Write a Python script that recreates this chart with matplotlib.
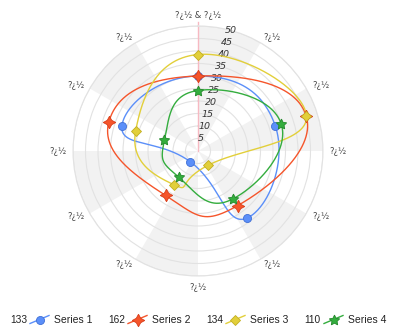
import numpy as np
import matplotlib
matplotlib.use('Agg')
import matplotlib.pyplot as plt
from matplotlib.lines import Line2D

# ---- data ----
angles_deg = [0, 72, 144, 216, 288]
series_names = ['Series 1', 'Series 2', 'Series 3', 'Series 4']
series1 = [30, 32.5, 33.2, 5.3, 32]
series2 = [30, 45.5, 27, 22, 37.5]
series3 = [38.6, 45.6, 7, 16.6, 26.2]
series4 = [24.2, 35, 23.7, 13, 14.1]
category_angles = list(range(0, 360, 30))
category_labels = ['?¿½ & ?¿½'] + ['?¿½'] * 11
radial_ticks = [5, 10, 15, 20, 25, 30, 35, 40, 45, 50]

colors = ['#5b8ff9', '#f5552b', '#e2cf3a', '#34ad3e']
edge_colors = ['#3f6fd6', '#d83c18', '#c2ae22', '#23882b']
markers = ['o', (4, 1, 0), 'D', (5, 1, 0)]
msizes = [5.8, 9, 5.6, 7.8]


def closed_spline(theta_deg, r, n=120, k=0.75):
    th = np.radians(theta_deg)
    r = np.asarray(r, dtype=float)
    P = np.column_stack([r * np.sin(th), r * np.cos(th)])
    m = len(P)
    D = k * (np.roll(P, -1, axis=0) - np.roll(P, 1, axis=0))
    t = np.linspace(0, 1, n, endpoint=False)[:, None]
    h00 = 2 * t**3 - 3 * t**2 + 1
    h10 = t**3 - 2 * t**2 + t
    h01 = -2 * t**3 + 3 * t**2
    h11 = t**3 - t**2
    pts = []
    for i in range(m):
        j = (i + 1) % m
        pts.append(h00 * P[i] + h10 * D[i] + h01 * P[j] + h11 * D[j])
    pts.append(P[0:1])
    pts = np.vstack(pts)
    rr = np.hypot(pts[:, 0], pts[:, 1])
    tt = np.unwrap(np.arctan2(pts[:, 0], pts[:, 1]))
    return tt, rr


fig = plt.figure(figsize=(3.95, 3.34), dpi=100)
ax = fig.add_axes([73 / 395, (334 - 151 - 125) / 334, 250 / 395, 250 / 334],
                  projection='polar')
ax.set_theta_zero_location('N')
ax.set_theta_direction(-1)
ax.set_ylim(0, 50)

# alternating shaded sectors
ax.bar(np.radians([15, 75, 135, 195, 255, 315]), 50, width=np.radians(30),
       color='#f2f2f2', edgecolor='none', zorder=1)

ax.set_yticks(radial_ticks)
ax.set_yticklabels([])
ax.yaxis.grid(True, color='#e2e2e2', linewidth=0.8)
ax.xaxis.grid(False)
ax.set_xticks(np.radians(category_angles))
ax.set_xticklabels([])
ax.tick_params(axis='x', length=5, width=0.8, color='#d6d6d6', direction='out')
ax.spines['polar'].set_color('#e2e2e2')
ax.spines['polar'].set_linewidth(0.8)

# pink radial axis line
ax.plot([0, 0], [0, 51.5], color='#f7b9c2', lw=1, zorder=2, clip_on=False)

# radial labels
for v in radial_ticks:
    ax.text(np.radians(15), v, str(v), ha='center', va='center',
            fontsize=6.8, fontstyle='italic', color='#333333', zorder=3,
            family='DejaVu Sans')

# category labels
for a, lab in zip(category_angles, category_labels):
    s, c = np.sin(np.radians(a)), np.cos(np.radians(a))
    ha = 'left' if s > 0.1 else ('right' if s < -0.1 else 'center')
    va = 'bottom' if c > 0.9 else ('top' if c < -0.9 else 'center')
    ax.text(np.radians(a), 52.6, lab, ha=ha, va=va, fontsize=6,
            color='#444444', clip_on=False, family='DejaVu Sans')

all_series = [series1, series2, series3, series4]
for k, vals in enumerate(all_series):
    tt, rr = closed_spline(angles_deg, vals)
    ax.plot(tt, rr, color=colors[k], lw=1, zorder=4 + k * 0.1)
for k, vals in enumerate(all_series):
    ax.plot(np.radians(angles_deg), vals, linestyle='none', marker=markers[k],
            markersize=msizes[k], markerfacecolor=colors[k],
            markeredgecolor=edge_colors[k], markeredgewidth=0.6, zorder=6 + k * 0.1)

# legend (manual, with series totals)
legend_x = [10, 108, 206, 304]
for k, vals in enumerate(all_series):
    x0 = legend_x[k]
    yfig = (334 - 320) / 334
    fig.text(x0 / 395, yfig, f"{round(sum(vals))}", ha='left', va='center',
             fontsize=7.3, family='Liberation Sans', color='#222222')
    hx0, hx1 = x0 + 20, x0 + 39
    fig.add_artist(Line2D([hx0 / 395, hx1 / 395], [(334 - 323.5) / 334, (334 - 315.5) / 334],
                          color=colors[k], lw=1, transform=fig.transFigure))
    fig.add_artist(Line2D([(hx0 + hx1) / 2 / 395], [(334 - 319.5) / 334],
                          marker=markers[k], markersize=msizes[k],
                          markerfacecolor=colors[k], markeredgecolor=edge_colors[k],
                          markeredgewidth=0.6, linestyle='none', transform=fig.transFigure))
    fig.text((x0 + 44) / 395, yfig, series_names[k], ha='left', va='center',
             fontsize=7.5, family='Liberation Sans', color='#222222')

fig.savefig('out.png', dpi=100)
